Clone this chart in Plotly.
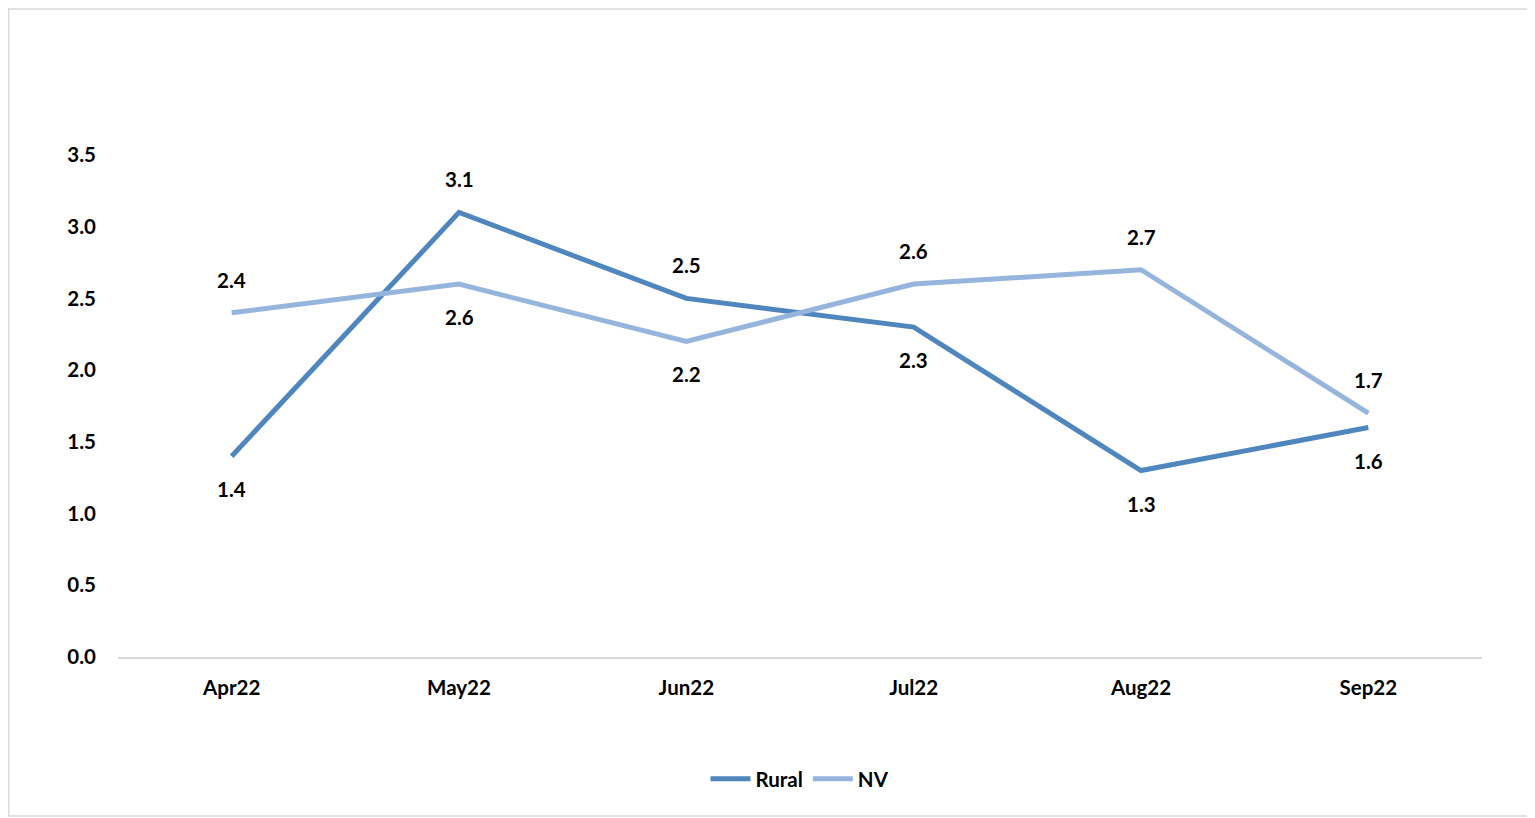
import plotly.graph_objects as go

months = ["Apr22", "May22", "Jun22", "Jul22", "Aug22", "Sep22"]
rural = [1.4, 3.1, 2.5, 2.3, 1.3, 1.6]
nv = [2.4, 2.6, 2.2, 2.6, 2.7, 1.7]
rural_label_side = [-1, 1, 1, -1, -1, -1]
nv_label_side = [1, -1, -1, 1, 1, 1]
y_ticks = [0.0, 0.5, 1.0, 1.5, 2.0, 2.5, 3.0, 3.5]

RURAL_C = "#4F86BE"
NV_C = "#95B5DD"
FONT = "Lato"
FS = 20.5

fig = go.Figure()
fig.add_trace(go.Scatter(x=months, y=rural, mode="lines", name="Rural",
                         line=dict(color=RURAL_C, width=5)))
fig.add_trace(go.Scatter(x=months, y=nv, mode="lines", name="NV",
                         line=dict(color=NV_C, width=5)))

anns = []
for vals, sides in ((rural, rural_label_side), (nv, nv_label_side)):
    for m, v, s in zip(months, vals, sides):
        anns.append(dict(x=m, y=v, text=f"{v:.1f}", showarrow=False,
                         yshift=33 * s, font=dict(family=FONT, size=FS, color="#000000", weight="bold")))

fig.update_layout(
    width=1527, height=810,
    margin=dict(l=110, r=53, t=147, b=161),
    paper_bgcolor="white", plot_bgcolor="white",
    font=dict(family=FONT, size=FS, color="#000000", weight="bold"),
    annotations=anns,
    showlegend=True,
    legend=dict(orientation="h", x=0.5, xanchor="center", y=-0.243, yanchor="middle",
                font=dict(family=FONT, size=FS, color="#000000", weight="bold"),
                itemwidth=40),
    xaxis=dict(range=[-0.5, 5.5], showgrid=False, showline=True, linecolor="#D9D9D9",
               linewidth=1.5, ticks="", ticklabelstandoff=12, zeroline=False),
    yaxis=dict(range=[0, 3.5], tickvals=y_ticks, ticktext=[f"{t:.1f}" for t in y_ticks],
               showgrid=False, showline=False, zeroline=False, ticks="",
               ticklabelstandoff=21),
    shapes=[dict(type="rect", xref="paper", yref="paper",
                 x0=-0.0802, x1=1.0345, y0=-0.3167, y1=1.2908,
                 line=dict(color="#D9D9D9", width=1.5), fillcolor="rgba(0,0,0,0)", layer="below")],
)

fig.write_html("out.html")
